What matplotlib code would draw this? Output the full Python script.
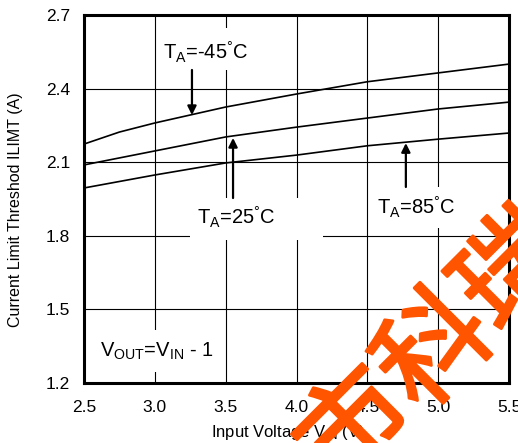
import matplotlib
matplotlib.use("Agg")
import matplotlib.pyplot as plt
import matplotlib.patheffects as pe
from matplotlib.patches import Rectangle

plt.rcParams['font.family'] = ['Liberation Sans', 'DejaVu Sans']
plt.rcParams['mathtext.fontset'] = 'custom'
plt.rcParams['mathtext.rm'] = 'Liberation Sans'
plt.rcParams['mathtext.it'] = 'Liberation Sans'

# data
vin_cold = [2.5, 2.75, 3.0, 3.5, 4.0, 4.5, 5.0, 5.5]
ilim_cold = [2.174, 2.223, 2.260, 2.325, 2.378, 2.428, 2.464, 2.500]
vin = [2.5, 3.0, 3.5, 4.0, 4.5, 5.0, 5.5]
ilim_room = [2.089, 2.146, 2.203, 2.243, 2.280, 2.317, 2.345]
ilim_hot = [1.995, 2.048, 2.097, 2.129, 2.167, 2.194, 2.219]

x_ticks = [2.5, 3.0, 3.5, 4.0, 4.5, 5.0, 5.5]
y_ticks = [1.2, 1.5, 1.8, 2.1, 2.4, 2.7]

fig = plt.figure(figsize=(5.18, 4.43), dpi=100)
ax = fig.add_axes([0.1622, 0.1354, 0.8204, 0.8307])

ax.set_xlim(2.5, 5.5)
ax.set_ylim(1.2, 2.7)
ax.set_xticks(x_ticks)
ax.set_yticks(y_ticks)
ax.set_xticklabels([f"{v:.1f}" for v in x_ticks], fontsize=12.5)
ax.set_yticklabels([f"{v:.1f}" for v in y_ticks], fontsize=12.5)
ax.tick_params(length=0, pad=10)
ax.tick_params(axis='x', pad=12)
ax.grid(True, color='black', linewidth=0.8, zorder=1)
ax.set_axisbelow(True)
for s in ax.spines.values():
    s.set_linewidth(2.2)
    s.set_zorder(10)

# white boxes behind labels (they cut the grid lines)
for x0, x1, y0, y1 in [(3.036, 3.954, 2.476, 2.647), (3.248, 4.187, 1.783, 1.954),
                       (4.519, 5.472, 1.832, 1.999), (2.542, 3.474, 1.245, 1.416)]:
    ax.add_patch(Rectangle((x0, y0), x1 - x0, y1 - y0, facecolor='white',
                           edgecolor='none', zorder=2))

ax.plot(vin_cold, ilim_cold, color='black', lw=1.2, zorder=3)
ax.plot(vin, ilim_room, color='black', lw=1.2, zorder=3)
ax.plot(vin, ilim_hot, color='black', lw=1.2, zorder=3)

arrow = dict(arrowstyle='-|>', color='black', lw=1.6, mutation_scale=13, shrinkA=0, shrinkB=0)
ax.annotate('', xy=(3.262, 2.292), xytext=(3.262, 2.476), arrowprops=arrow, zorder=4)
ax.annotate('', xy=(3.552, 2.199), xytext=(3.552, 1.954), arrowprops=arrow, zorder=4)
ax.annotate('', xy=(4.772, 2.178), xytext=(4.772, 1.999), arrowprops=arrow, zorder=4)

deg = r'$^\mathrm{°}$'
ax.text(3.058, 2.549, r'T$_\mathrm{A}$=-45' + deg + 'C', fontsize=14.5, va='center', zorder=5)
ax.text(3.30, 1.876, r'T$_\mathrm{A}$=25' + deg + 'C', fontsize=14.5, va='center', zorder=5)
ax.text(4.565, 1.916, r'T$_\mathrm{A}$=85' + deg + 'C', fontsize=14.5, va='center', zorder=5)
ax.text(2.61, 1.33, r'V$_\mathrm{OUT}$=V$_\mathrm{IN}$ - 1', fontsize=14.5, va='center', zorder=5)

fig.text(288 / 518, 1 - 432 / 443, r'Input Voltage V$_\mathrm{IN}$ (V)', fontsize=12,
         ha='center', va='center')
fig.text(16 / 518, 1 - 210 / 443, 'Current Limit Threshod ILIMT (A)', fontsize=11.5,
         ha='center', va='center', rotation=90)

# watermark
fig.text(437 / 518, 1 - 352 / 443, '市科瑞', fontsize=80, color='#ff5500',
         family=['Noto Sans CJK SC'], rotation=45, rotation_mode='anchor',
         ha='center', va='center', zorder=20,
         path_effects=[pe.withStroke(linewidth=2, foreground='#ff5500')])

fig.savefig('out.png', dpi=100)
